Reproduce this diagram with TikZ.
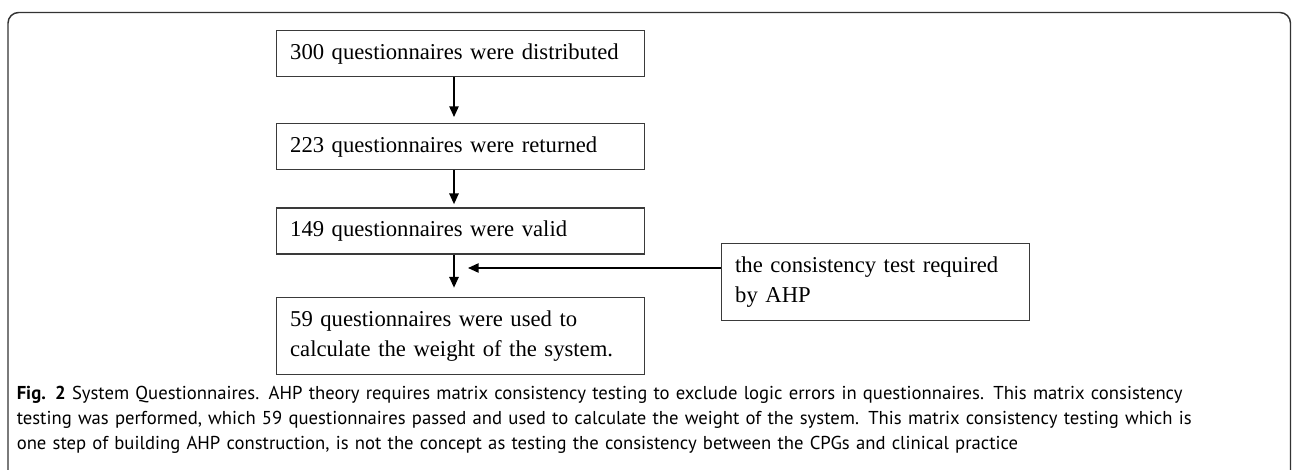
\documentclass[tikz,border=0pt]{standalone}
\usepackage{fontspec}
\setmainfont{Liberation Serif}
\newfontfamily\capfont{PT Sans}
\usetikzlibrary{arrows.meta,calc}
\definecolor{framec}{HTML}{333333}
\definecolor{boxc}{HTML}{3A3A3A}
\begin{document}
\begin{tikzpicture}[x=0.75pt,y=-0.75pt,
  qbox/.style={draw=boxc, line width=1pt, rectangle, anchor=north west,
    inner xsep=10.5pt, inner ysep=0pt, align=left,
    font=\fontsize{17}{22.5}\selectfont},
  onebox/.style={qbox, text width=255pt, minimum height=34.5pt},
  twobox/.style={qbox, text width=255pt, minimum height=57.75pt},
  flow/.style={line width=1.1pt, -{Triangle[width=7pt,length=8pt]}}]
\useasboundingbox (0,0) rectangle (1292,470);
\draw[framec, line width=1.1pt, rounded corners=8pt] (8,472) -- (8,12.5) -- (1290.5,12.5) -- (1290.5,472);
\node[onebox] (b1) at (275.5,30) {300 questionnaires were distributed};
\node[onebox] (b2) at (275.5,123) {223 questionnaires were returned};
\node[onebox] (b3) at (275.5,207.5) {149 questionnaires were valid};
\node[twobox] (b4) at (275.5,297) {59 questionnaires were used to\\calculate the weight of the system.};
\node[qbox, text width=210.4pt, minimum height=57.75pt] (r) at (720.5,243) {the consistency test required\\by AHP};
\coordinate (tip) at (468,268);
\draw[flow, shorten >=4.5pt] (b1.south -| 454,0) -- (b2.north -| 454,0);
\draw[flow, shorten >=2.5pt] (b2.south -| 454,0) -- (b3.north -| 454,0);
\draw[flow, shorten >=7pt] (b3.south -| 454,0) -- (b4.north -| 454,0);
\draw[flow] (r.west |- tip) -- (tip);
\node[anchor=north west, inner sep=0pt, align=left, text width=950pt,
  font=\capfont\fontsize{14}{18.6}\selectfont] (cap) at (16.5,386)
  {\textbf{Fig. 2} System Questionnaires. AHP theory requires matrix consistency testing to exclude logic errors in questionnaires. This matrix consistency\\
  testing was performed, which 59 questionnaires passed and used to calculate the weight of the system. This matrix consistency testing which is\\
  one step of building AHP construction, is not the concept as testing the consistency between the CPGs and clinical practice};
\end{tikzpicture}
\end{document}
